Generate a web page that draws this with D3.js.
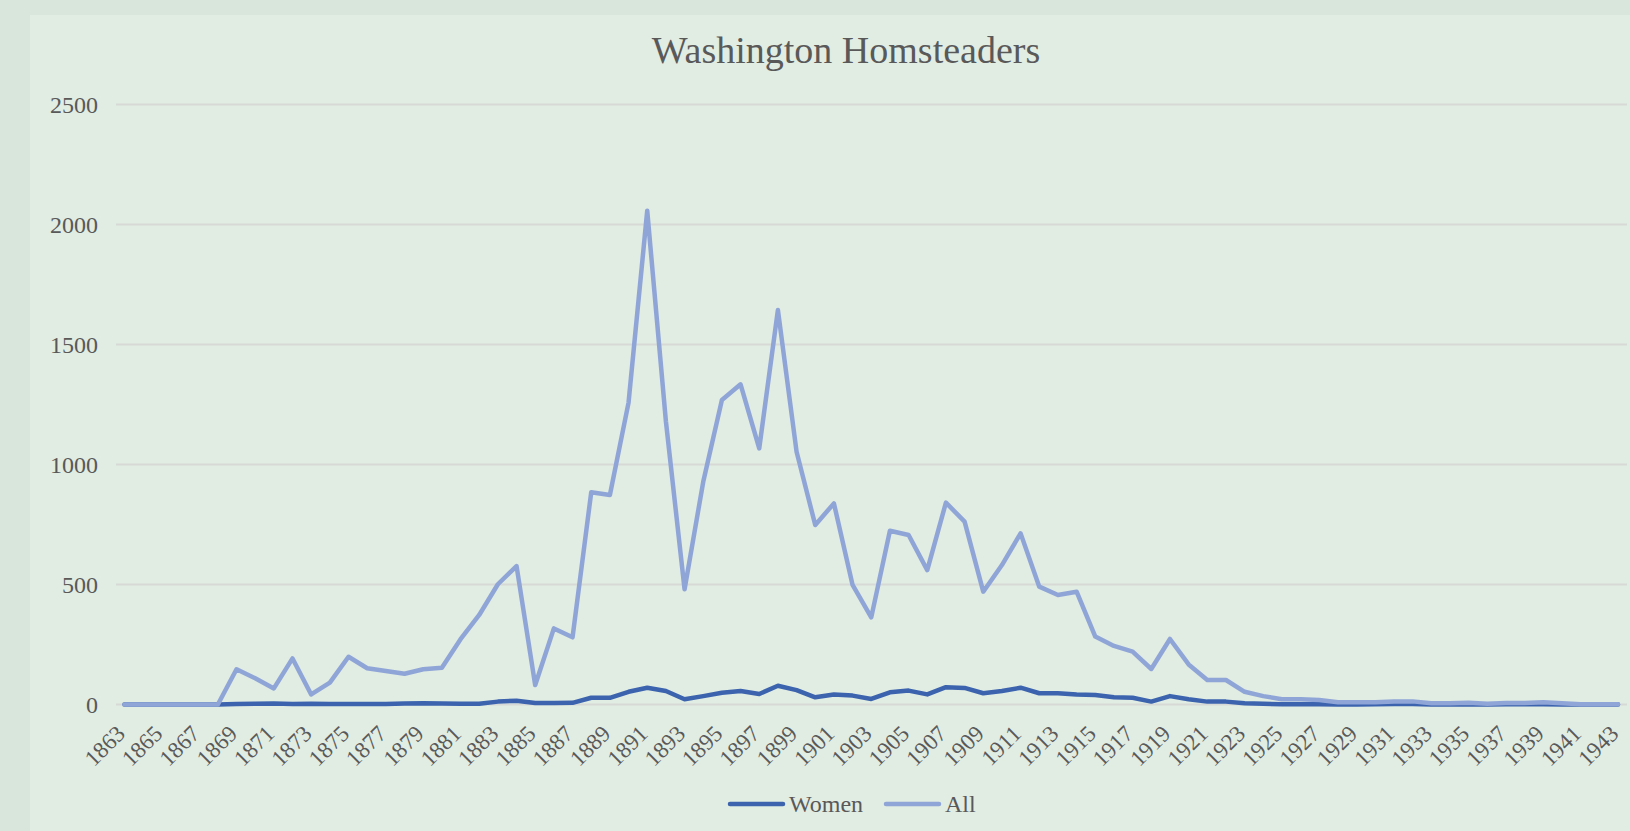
<!DOCTYPE html>
<html>
<head>
<meta charset="utf-8">
<script src="https://cdn.jsdelivr.net/npm/d3@7"></script>
<style>
  html, body { margin: 0; padding: 0; background: #d8e6db; }
  svg { display: block; }
</style>
</head>
<body>
<svg id="chart" width="1630" height="831"></svg>
<script>
const years = [1863,1864,1865,1866,1867,1868,1869,1870,1871,1872,1873,1874,1875,1876,1877,1878,1879,1880,
  1881,1882,1883,1884,1885,1886,1887,1888,1889,1890,1891,1892,1893,1894,1895,1896,1897,1898,1899,1900,
  1901,1902,1903,1904,1905,1906,1907,1908,1909,1910,1911,1912,1913,1914,1915,1916,1917,1918,1919,1920,
  1921,1922,1923,1924,1925,1926,1927,1928,1929,1930,1931,1932,1933,1934,1935,1936,1937,1938,1939,1940,
  1941,1942,1943];

const women = [0,0,0,0,0,0,2,3,4,2,3,2,2,2,2,4,5,4,
  3,3,12,16,6,6,7,28,28,53,70,56,22,35,49,56,44,78,60,30,
  42,37,23,51,58,42,72,69,47,56,70,47,47,42,40,30,28,12,35,22,
  12,12,5,3,1,1,1,0,0,1,2,2,0,0,1,0,1,1,1,0,
  0,0,0];

const all = [0,0,0,0,0,0,147,109,67,192,42,91,199,151,140,128,147,153,
  272,373,501,577,81,317,280,884,873,1258,2057,1180,480,928,1269,1334,1067,1644,1053,748,
  838,498,363,724,706,560,841,762,470,581,713,491,456,470,283,244,220,148,273,167,
  102,102,53,35,22,22,19,9,9,9,13,13,5,5,7,3,6,6,9,5,
  1,1,1];

const xTickLabels = [1863,1865,1867,1869,1871,1873,1875,1877,1879,1881,1883,1885,1887,1889,1891,1893,
  1895,1897,1899,1901,1903,1905,1907,1909,1911,1913,1915,1917,1919,1921,1923,1925,1927,1929,1931,1933,
  1935,1937,1939,1941,1943];
const yTicks = [0,500,1000,1500,2000,2500];

const seriesNames = ["Women", "All"];
const seriesColors = ["#3b63ae", "#8fa5d7"];

const svg = d3.select("#chart");
const font = "'Liberation Serif', 'Times New Roman', serif";
const textColor = "#595959";

// panel
svg.append("rect").attr("x", 30).attr("y", 15).attr("width", 1600).attr("height", 816).attr("fill", "#e1ece3");

const plotLeft = 116, plotRight = 1627;
const x = d3.scalePoint().domain(years).range([124.5, 1618]);
const y = d3.scaleLinear().domain([0, 2500]).range([704.5, 104.5]);

// gridlines
svg.append("g").selectAll("line").data(yTicks).join("line")
  .attr("x1", plotLeft).attr("x2", plotRight)
  .attr("y1", d => y(d)).attr("y2", d => y(d))
  .attr("stroke", "#d6d9d6").attr("stroke-width", 2);

// y labels
svg.append("g").selectAll("text").data(yTicks).join("text")
  .attr("x", 98).attr("y", d => y(d)).attr("dy", "0.35em")
  .attr("text-anchor", "end")
  .attr("font-family", font).attr("font-size", 24).attr("fill", textColor)
  .text(d => d);

// x labels
svg.append("g").selectAll("text").data(xTickLabels).join("text")
  .attr("transform", d => `translate(${x(d) + 2},${735}) rotate(-45)`)
  .attr("text-anchor", "end")
  .attr("font-family", font).attr("font-size", 23).attr("fill", textColor)
  .text(d => d);

// lines
const line = d3.line().x((d, i) => x(years[i])).y(d => y(d));
[women, all].forEach((vals, k) => {
  svg.append("path").datum(vals)
    .attr("d", line)
    .attr("fill", "none")
    .attr("stroke", seriesColors[k])
    .attr("stroke-width", 4.5)
    .attr("stroke-linejoin", "round")
    .attr("stroke-linecap", "round");
});

// title
svg.append("text").attr("x", 846).attr("y", 63).attr("text-anchor", "middle")
  .attr("font-family", font).attr("font-size", 38).attr("fill", textColor)
  .text("Washington Homsteaders");

// legend
const legendX = [730, 886];
const lg = svg.append("g");
seriesNames.forEach((name, k) => {
  lg.append("line").attr("x1", legendX[k]).attr("x2", legendX[k] + 53)
    .attr("y1", 804).attr("y2", 804)
    .attr("stroke", seriesColors[k]).attr("stroke-width", 4.5).attr("stroke-linecap", "round");
  lg.append("text").attr("x", legendX[k] + 59).attr("y", 804).attr("dy", "0.35em")
    .attr("font-family", font).attr("font-size", 24).attr("fill", textColor)
    .text(name);
});
</script>
</body>
</html>
